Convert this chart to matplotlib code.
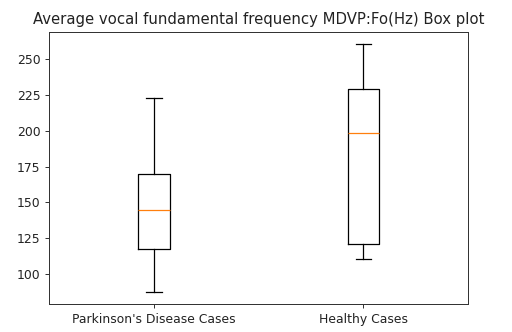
import matplotlib
matplotlib.use("Agg")
import matplotlib.pyplot as plt

labels = ["Parkinson's Disease Cases", "Healthy Cases"]
whislo = [87.6, 110.5]
q1 = [117.5, 121.2]
med = [144.6, 198.7]
q3 = [169.7, 229.2]
whishi = [223.2, 260.7]

stats = [
    dict(label=l, whislo=a, q1=b, med=c, q3=d, whishi=e, fliers=[])
    for l, a, b, c, d, e in zip(labels, whislo, q1, med, q3, whishi)
]

DPI = 72 * 1.24
fig = plt.figure(figsize=(512 / DPI, 332 / DPI), dpi=DPI)
ax = fig.add_axes([49 / 512, 1 - 304 / 332, (468.3 - 49) / 512, (304 - 31.7) / 332])
ax.bxp(stats)
for s in ax.spines.values():
    s.set_edgecolor("#333333")
ax.tick_params(colors="#333333", labelcolor="#222222")
ax.set_title("Average vocal fundamental frequency MDVP:Fo(Hz) Box plot", color="#222222")
fig.savefig("out.png", dpi=DPI)
